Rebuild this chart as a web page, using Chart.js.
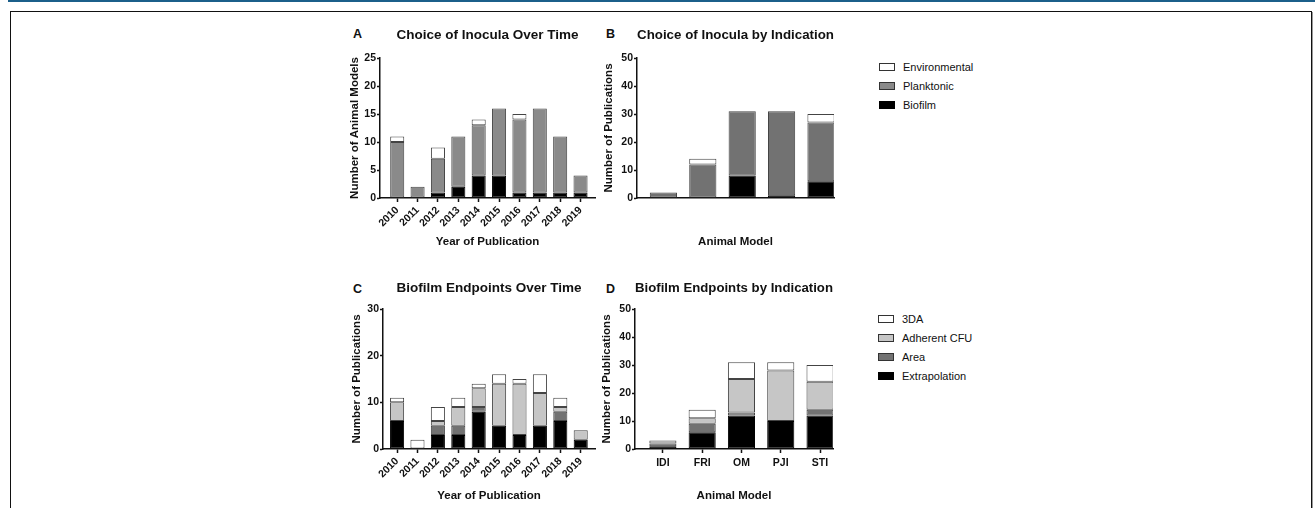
<!DOCTYPE html>
<html>
<head>
<meta charset="utf-8">
<script src="https://cdn.jsdelivr.net/npm/chart.js@4.4.1/dist/chart.umd.min.js"></script>
<style>
  body { margin: 0; background: #fff; width: 1315px; height: 508px; overflow: hidden; position: relative;
         font-family: Arial, "Liberation Sans", Helvetica, sans-serif; color: #111; }
  .topline { position: absolute; left: 8px; right: 0; top: 0; height: 2px; background: #1b5f8a; }
  .frame { position: absolute; left: 10px; top: 11px; width: 1300px; height: 540px;
           border: 1px solid #111; box-shadow: 1px 1px 0 #999; }
  canvas { position: absolute; }
  .letter { position: absolute; font-weight: bold; font-size: 12.5px; line-height: 12px; }
  .legend { position: absolute; font-size: 11px; }
  .legend .item { height: 19px; display: flex; align-items: center; }
  .legend .box { width: 14px; height: 6px; border: 1px solid #333; margin-right: 8px; }
</style>
</head>
<body>
<div class="topline"></div>
<div class="frame"></div>
<div class="letter" style="left:353px;top:28px">A</div>
<div class="letter" style="left:606px;top:28px">B</div>
<div class="letter" style="left:353px;top:283px">C</div>
<div class="letter" style="left:606px;top:283px">D</div>
<script>
// categories
const years = ['2010', '2011', '2012', '2013', '2014', '2015', '2016', '2017', '2018', '2019'];
const models = ['IDI', 'FRI', 'OM', 'PJI', 'STI'];

// A - inocula per year
const biofilmByYear = [0, 0, 1, 2, 4, 4, 1, 1, 1, 1];
const planktonicByYear = [10, 2, 6, 9, 9, 12, 13, 15, 10, 3];
const environmentalByYear = [1, 0, 2, 0, 1, 0, 1, 0, 0, 0];

// B - inocula per animal model
const biofilmByModel = [0, 0, 8, 1, 6];
const planktonicByModel = [2, 12, 23, 30, 21];
const environmentalByModel = [0, 2, 0, 0, 3];

// C - biofilm endpoints per year
const extrapolationByYear = [6, 0, 3, 3, 8, 5, 3, 5, 6, 2];
const areaByYear = [0, 0, 2, 2, 1, 0, 0, 0, 2, 0];
const cfuByYear = [4, 0, 1, 4, 4, 9, 11, 7, 1, 2];
const tdaByYear = [1, 2, 3, 2, 1, 2, 1, 4, 2, 0];

// D - biofilm endpoints per animal model
const extrapolationByModel = [1, 6, 12, 10, 12];
const areaByModel = [1, 3, 1, 0, 2];
const cfuByModel = [1, 2, 12, 18, 10];
const tdaByModel = [0, 3, 6, 3, 6];

const ink = '#111';
const edge = '#444';

function panel(cfg) {
  const cv = document.createElement('canvas');
  cv.width = cfg.box[2];
  cv.height = cfg.box[3];
  cv.style.left = cfg.box[0] + 'px';
  cv.style.top = cfg.box[1] + 'px';
  document.body.appendChild(cv);

  return new Chart(cv, {
    type: 'bar',
    data: {
      datasets: cfg.series.map(s => ({
        label: s.label,
        data: s.values.map((v, i) => ({ x: i, y: v })),
        backgroundColor: s.color,
        borderColor: s.color === '#000' ? '#000' : edge,
        borderWidth: 1,
        borderSkipped: false,
        categoryPercentage: 1,
        barPercentage: 0.69
      }))
    },
    options: {
      responsive: false,
      animation: false,
      layout: { padding: { left: 0, right: 5, top: 0, bottom: 0 } },
      plugins: {
        legend: { display: false },
        tooltip: { enabled: false },
        title: {
          display: true, text: cfg.title, fullSize: false, color: ink,
          font: { size: 13.5, weight: 'bold' },
          padding: { top: cfg.titlePad[0], bottom: cfg.titlePad[1] }
        }
      },
      scales: {
        x: {
          type: 'linear', stacked: true, offset: false,
          min: cfg.xRange[0], max: cfg.xRange[1],
          grid: { drawOnChartArea: false, offset: false, color: ink, tickLength: 4, tickWidth: 1.5 },
          border: { color: ink, width: 1.5 },
          ticks: {
            stepSize: 1, includeBounds: false, autoSkip: false,
            minRotation: cfg.rot, maxRotation: cfg.rot, padding: cfg.xTickPad,
            color: ink, font: { size: 10.5, weight: 'bold' },
            callback: v => cfg.labels[v]
          },
          title: {
            display: true, text: cfg.xTitle, color: ink,
            font: { size: 11.5, weight: 'bold' },
            padding: { top: 0, bottom: cfg.xTitlePad }
          },
          afterFit: s => { s.height = cfg.xh; }
        },
        y: {
          stacked: true, min: 0, max: cfg.yMax,
          grid: { drawOnChartArea: false, color: ink, tickLength: 3, tickWidth: 1.5 },
          border: { color: ink, width: 1.5 },
          ticks: { stepSize: cfg.yStep, padding: 1, color: ink, font: { size: 10.5, weight: 'bold' } },
          title: {
            display: true, text: cfg.yTitle, color: ink,
            font: { size: 11.5, weight: 'bold' },
            padding: { top: cfg.yTitlePad, bottom: 0 }
          },
          afterFit: s => { s.width = 40; }
        }
      }
    }
  });
}

function legend(series, left, top) {
  const box = document.createElement('div');
  box.className = 'legend';
  box.style.left = left + 'px';
  box.style.top = top + 'px';
  series.slice().reverse().forEach(s => {
    const row = document.createElement('div');
    row.className = 'item';
    const sw = document.createElement('span');
    sw.className = 'box';
    sw.style.background = s.color;
    if (s.color === '#000') sw.style.borderColor = '#000';
    row.appendChild(sw);
    row.appendChild(document.createTextNode(s.label));
    box.appendChild(row);
  });
  document.body.appendChild(box);
}

const seriesA = [
  { label: 'Biofilm', values: biofilmByYear, color: '#000' },
  { label: 'Planktonic', values: planktonicByYear, color: '#8a8a8a' },
  { label: 'Environmental', values: environmentalByYear, color: '#fff' }
];
const seriesB = [
  { label: 'Biofilm', values: biofilmByModel, color: '#000' },
  { label: 'Planktonic', values: planktonicByModel, color: '#727272' },
  { label: 'Environmental', values: environmentalByModel, color: '#fff' }
];
const seriesC = [
  { label: 'Extrapolation', values: extrapolationByYear, color: '#000' },
  { label: 'Area', values: areaByYear, color: '#727272' },
  { label: 'Adherent CFU', values: cfuByYear, color: '#c6c6c6' },
  { label: '3DA', values: tdaByYear, color: '#fff' }
];
const seriesD = [
  { label: 'Extrapolation', values: extrapolationByModel, color: '#000' },
  { label: 'Area', values: areaByModel, color: '#727272' },
  { label: 'Adherent CFU', values: cfuByModel, color: '#c6c6c6' },
  { label: '3DA', values: tdaByModel, color: '#fff' }
];

panel({
  box: [340, 20, 260, 240], series: seriesA, labels: years, rot: 45, xTickPad: 2,
  title: 'Choice of Inocula Over Time', titlePad: [6.9, 14.9],
  xRange: [-0.845, 9.71], xh: 62, xTitle: 'Year of Publication', xTitlePad: 11,
  yMax: 25, yStep: 5, yTitle: 'Number of Animal Models', yTitlePad: 8.1
});
panel({
  box: [597, 20, 242, 240], series: seriesB, labels: models, rot: 0, xTickPad: 4.5,
  title: 'Choice of Inocula by Indication', titlePad: [6.9, 14.9],
  xRange: [-0.67, 4.33], xh: 62, xTitle: 'Animal Model', xTitlePad: 11,
  yMax: 50, yStep: 10, yTitle: 'Number of Publications', yTitlePad: 5.1
});
panel({
  box: [343, 270, 257, 238], series: seriesC, labels: years, rot: 45, xTickPad: 2,
  title: 'Biofilm Endpoints Over Time', titlePad: [9.9, 12.9],
  xRange: [-0.69, 9.7], xh: 59, xTitle: 'Year of Publication', xTitlePad: 5.1,
  yMax: 30, yStep: 10, yTitle: 'Number of Publications', yTitlePad: 7.1
});
panel({
  box: [595, 270, 243, 238], series: seriesD, labels: models, rot: 0, xTickPad: 4,
  title: 'Biofilm Endpoints by Indication', titlePad: [9.9, 12.9],
  xRange: [-0.71, 4.33], xh: 59, xTitle: 'Animal Model', xTitlePad: 5.1,
  yMax: 50, yStep: 10, yTitle: 'Number of Publications', yTitlePad: 5.1
});

legend(seriesA, 879, 57.5);
legend(seriesD, 878, 309.5);
</script>
</body>
</html>
